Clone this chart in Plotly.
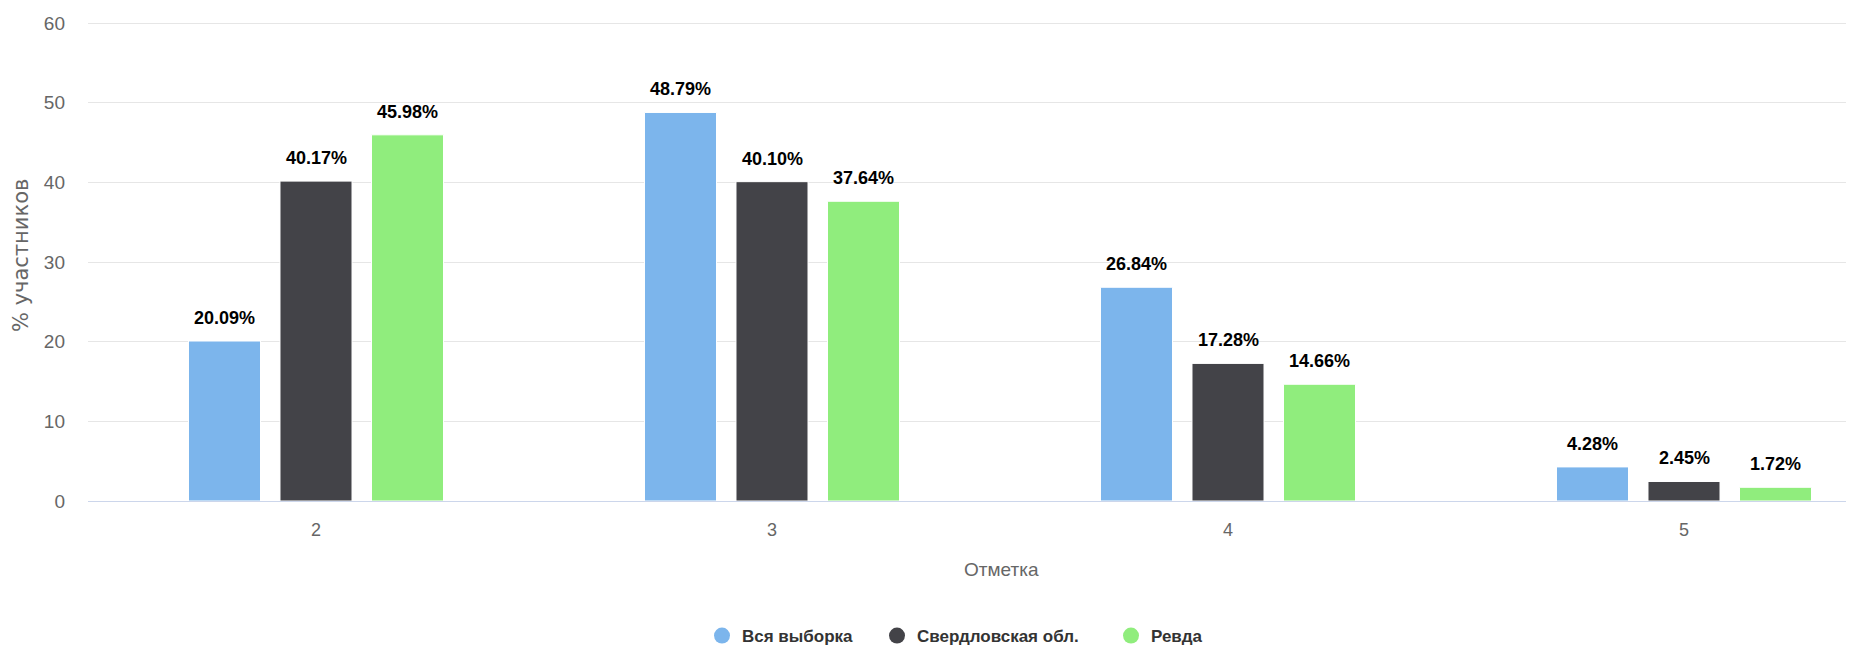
import plotly.graph_objects as go

CATEGORIES = ["2", "3", "4", "5"]
SERIES = ["Вся выборка", "Свердловская обл.", "Ревда"]
VALUES_ALL = [20.09, 48.79, 26.84, 4.28]
VALUES_SVERDL = [40.17, 40.10, 17.28, 2.45]
VALUES_REVDA = [45.98, 37.64, 14.66, 1.72]
Y_TICKS = [0, 10, 20, 30, 40, 50, 60]

COLORS = ["#7cb5ec", "#434348", "#90ed7d"]
FONT = "Liberation Sans, Arial, sans-serif"

# the page body has an 8px margin, so the figure is drawn 8px smaller
PAD = 8
W, H = 1854 - PAD, 650 - PAD
LEFT, TOP = 88 - PAD, 22 - PAD
PLOT_BOTTOM = 501 - PAD
BOTTOM = H - PLOT_BOTTOM
CAT_PX = 456  # one category in px; the original plot runs past the right edge
BARGAP, BARGROUPGAP = 0.398, 0.213
LEGEND_CIRCLES = [722, 897, 1131]  # page x of each legend symbol

plot_w = W - LEFT
plot_h = H - TOP - BOTTOM
x_end = plot_w / CAT_PX - 0.5
xs = list(range(len(CATEGORIES)))


def px_x(page_x):
    return (page_x - PAD - LEFT) / plot_w


def px_y(page_y):
    return (PLOT_BOTTOM - (page_y - PAD)) / plot_h


fig = go.Figure()
annotations = []
legends = {}
series_vals = [VALUES_ALL, VALUES_SVERDL, VALUES_REVDA]
slot = (1 - BARGAP) / len(SERIES)
for i, (name, vals, color) in enumerate(zip(SERIES, series_vals, COLORS)):
    fig.add_trace(go.Bar(
        x=xs, y=vals, name=name,
        marker=dict(color=color, line=dict(color="white", width=1)),
        showlegend=False, hoverinfo="skip",
    ))
    # one legend box per series so each item sits where the original has it
    leg = "legend" if i == 0 else f"legend{i + 1}"
    fig.add_trace(go.Scatter(
        x=[None], y=[None], mode="markers", name=name, legend=leg,
        marker=dict(symbol="circle", size=16, color=color),
    ))
    legends[leg] = dict(
        orientation="h", x=px_x(LEGEND_CIRCLES[i] - 20), xanchor="left",
        y=px_y(636), yanchor="middle", bgcolor="rgba(0,0,0,0)",
        font=dict(family=FONT, size=17, color="#333333", weight="bold"),
    )
    off = (i - (len(SERIES) - 1) / 2) * slot
    for x, v in zip(xs, vals):
        annotations.append(dict(
            x=x + off, y=v, text=f"{v:.2f}%", showarrow=False,
            xanchor="center", yanchor="bottom", yshift=11,
            font=dict(family=FONT, size=18, color="#000000", weight="bold"),
        ))

annotations.append(dict(
    text="Отметка", xref="paper", yref="paper", x=px_x(1001), y=px_y(569),
    xanchor="center", yanchor="middle", showarrow=False,
    font=dict(family=FONT, size=19, color="#666666"),
))
annotations.append(dict(
    text="% участников", xref="paper", yref="paper", textangle=-90,
    x=px_x(21), y=px_y(256),
    xanchor="center", yanchor="middle", showarrow=False,
    font=dict(family="DejaVu Sans", size=21, color="#666666"),
))

fig.update_layout(
    width=W, height=H,
    margin=dict(l=LEFT, r=0, t=TOP, b=BOTTOM, autoexpand=False),
    paper_bgcolor="white", plot_bgcolor="white",
    barmode="group", bargap=BARGAP, bargroupgap=BARGROUPGAP,
    showlegend=True,
    xaxis=dict(
        range=[-0.5, x_end], tickmode="array", tickvals=xs, ticktext=CATEGORIES,
        showgrid=False, showline=True, linecolor="#ccd6eb", linewidth=1,
        ticks="", ticklabelstandoff=12,
        tickfont=dict(family=FONT, size=18, color="#666666"),
        zeroline=False, fixedrange=True, automargin=False,
    ),
    yaxis=dict(
        range=[0, 60.15], tickvals=Y_TICKS, showgrid=True, gridcolor="#e6e6e6",
        zeroline=False, ticks="", ticklabelstandoff=22, automargin=False,
        tickfont=dict(family=FONT, size=19, color="#666666"),
    ),
    annotations=annotations,
    **legends,
)

fig.write_html("out.html")
